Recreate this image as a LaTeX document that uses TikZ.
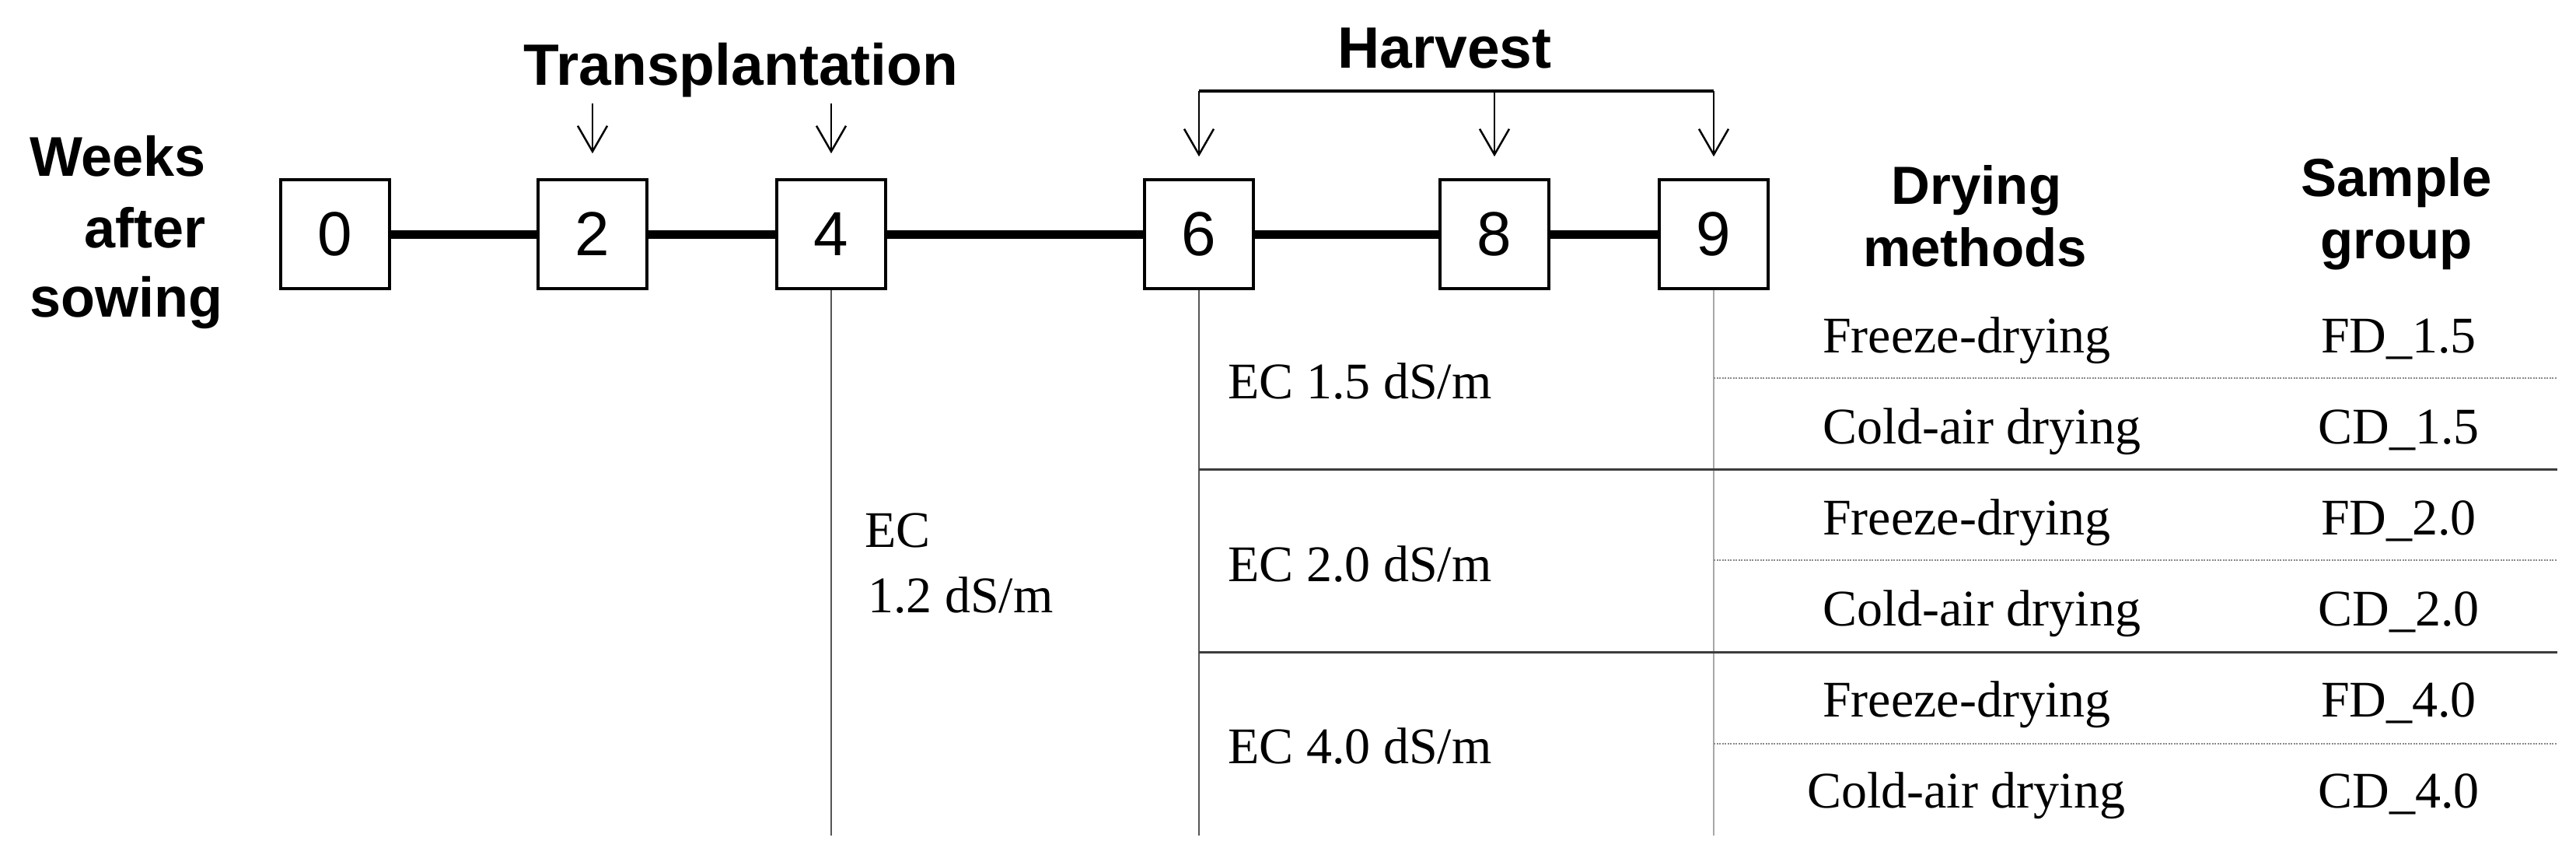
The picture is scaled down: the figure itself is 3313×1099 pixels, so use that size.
\documentclass[tikz,border=0pt]{standalone}
\usepackage{fontspec}
\setmainfont{Liberation Serif}
\setsansfont{Liberation Sans}
\usetikzlibrary{arrows.meta}
\definecolor{lineA}{HTML}{555555}
\definecolor{lineB}{HTML}{A8A8A8}
\definecolor{lineC}{HTML}{3C3C3C}
\definecolor{lineD}{HTML}{8A8A8A}
\begin{document}
\begin{tikzpicture}[x=1pt,y=-1pt,
  wk/.style={draw=black, line width=3.5pt, fill=white, minimum width=140pt, minimum height=140pt, inner sep=0pt, font=\fontsize{80}{96}\selectfont\sffamily},
  hd/.style={font=\fontsize{69}{82}\selectfont\sffamily\bfseries, inner sep=0pt},
  side/.style={font=\fontsize{72}{86}\selectfont\sffamily\bfseries, inner sep=0pt},
  ttl/.style={font=\fontsize{75}{90}\selectfont\sffamily\bfseries, inner sep=0pt},
  lab/.style={font=\fontsize{66}{80}\selectfont, inner sep=0pt},
  arr/.style={line width=2.5pt, -{Straight Barb[length=33pt,width=38pt]}},
  timeline/.style={line width=11pt},
  bracket/.style={line width=3.5pt, line join=miter},
  vlineA/.style={line width=2.5pt, draw=lineA},
  vlineB/.style={line width=2.5pt, draw=lineB},
  hlineS/.style={line width=3pt, draw=lineC},
  hlineD/.style={line width=2pt, draw=lineD, dash pattern=on 2pt off 1.5pt}
]
\useasboundingbox (0,0) rectangle (3313,1099);

% helper coordinates
\coordinate (hy) at (0,117);
\coordinate (bot) at (0,1074);
\coordinate (re) at (3289,0);
\coordinate (ya) at (0,603);
\coordinate (yb) at (0,838);
\coordinate (d1) at (0,486);
\coordinate (d2) at (0,720);
\coordinate (d3) at (0,956);

% week boxes
\node[wk] (b0) at (431,301) {0};
\node[wk] (b2) at (762,301) {2};
\node[wk] (b4) at (1069,301) {4};
\node[wk] (b6) at (1542,301) {6};
\node[wk] (b8) at (1922,301) {8};
\node[wk] (b9) at (2204,301) {9};

% timeline
\draw[timeline] (b0.east) -- (b2.west);
\draw[timeline] (b2.east) -- (b4.west);
\draw[timeline] (b4.east) -- (b6.west);
\draw[timeline] (b6.east) -- (b8.west);
\draw[timeline] (b8.east) -- (b9.west);

% left label
\node[side, anchor=base west] (wk1) at (38,227) {Weeks};
\node[side, anchor=base west] (wk2) at (108,318) {after};
\node[side, anchor=base west] (wk3) at (38,407) {sowing};

% transplantation
\node[ttl, anchor=base] (trans) at (953,110) {Transplantation};
\coordinate (t2) at (762,133);
\coordinate (t4) at (1069,133);
\draw[arr] (t2) -- ([yshift=32pt]b2.north);
\draw[arr] (t4) -- ([yshift=32pt]b4.north);

% harvest
\node[ttl, anchor=base] (harv) at (1858,88) {Harvest};
\draw[bracket] (b6 |- hy) -- (b9 |- hy);
\draw[arr] (b6 |- hy) -- ([yshift=28pt]b6.north);
\draw[arr] (b8 |- hy) -- ([yshift=28pt]b8.north);
\draw[arr] (b9 |- hy) -- ([yshift=28pt]b9.north);

% headers
\node[hd, anchor=base] (dm1) at (2542,263) {Drying};
\node[hd, anchor=base] (dm2) at (2540,342) {methods};
\node[hd, anchor=base] (sg1) at (3082,253) {Sample};
\node[hd, anchor=base] (sg2) at (3082,332) {group};

% vertical lines
\draw[vlineA] (b4.south) -- (b4 |- bot);
\draw[vlineA] (b6.south) -- (b6 |- bot);
\draw[vlineB] (b9.south) -- (b9 |- bot);

% horizontal lines
\draw[hlineS] (b6 |- ya) -- (re |- ya);
\draw[hlineS] (b6 |- yb) -- (re |- yb);
\draw[hlineD] (b9 |- d1) -- (re |- d1);
\draw[hlineD] (b9 |- d2) -- (re |- d2);
\draw[hlineD] (b9 |- d3) -- (re |- d3);

% EC labels
\node[lab, anchor=base west] (ec12a) at (1112,703) {EC};
\node[lab, anchor=base west] (ec12b) at (1116,787) {1.2 dS/m};
\node[lab, anchor=base west] (ec15) at (1579,512) {EC 1.5 dS/m};
\node[lab, anchor=base west] (ec20) at (1579,747) {EC 2.0 dS/m};
\node[lab, anchor=base west] (ec40) at (1579,981) {EC 4.0 dS/m};

% drying methods
\node[lab, anchor=base west] (m1) at (2344,453) {Freeze-drying};
\node[lab, anchor=base west] (m2) at (2344,570) {Cold-air drying};
\node[lab, anchor=base west] (m3) at (2344,687) {Freeze-drying};
\node[lab, anchor=base west] (m4) at (2344,804) {Cold-air drying};
\node[lab, anchor=base west] (m5) at (2344,921) {Freeze-drying};
\node[lab, anchor=base west] (m6) at (2324,1038) {Cold-air drying};

% sample groups
\node[lab, anchor=base] (g1) at (3085,453) {FD\_1.5};
\node[lab, anchor=base] (g2) at (3085,570) {CD\_1.5};
\node[lab, anchor=base] (g3) at (3085,687) {FD\_2.0};
\node[lab, anchor=base] (g4) at (3085,804) {CD\_2.0};
\node[lab, anchor=base] (g5) at (3085,921) {FD\_4.0};
\node[lab, anchor=base] (g6) at (3085,1038) {CD\_4.0};
\end{tikzpicture}
\end{document}
